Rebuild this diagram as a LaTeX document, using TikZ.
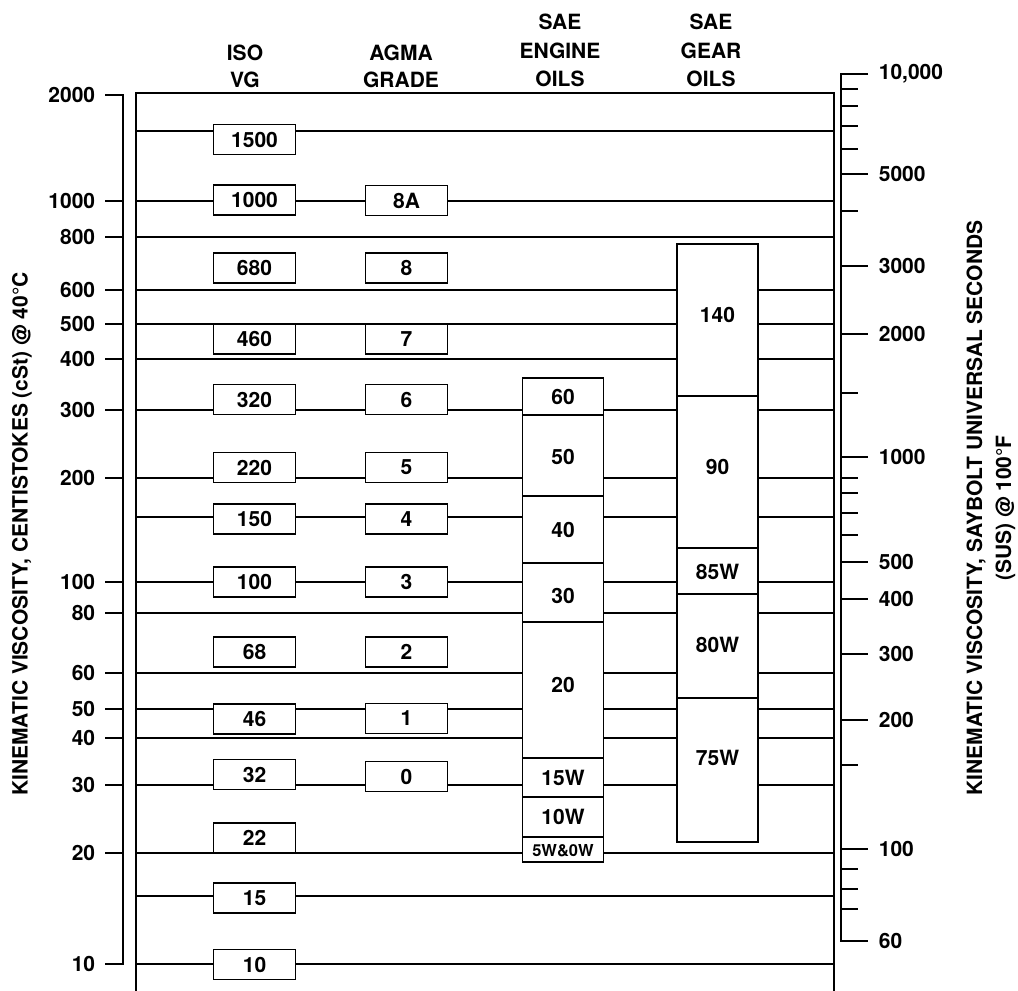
\documentclass[tikz,border=0pt]{standalone}
\usepackage{fontspec}
\setmainfont{TeX Gyre Heros}
\begin{document}
\begin{tikzpicture}[x=1pt,y=-1pt,line width=1.7pt,
  txt/.style={font=\fontsize{21}{25}\selectfont\bfseries,inner sep=0pt},
  gbox/.style={draw,fill=white,line width=1.7pt,minimum width=82pt,minimum height=30pt,inner sep=0pt,font=\fontsize{21}{25}\selectfont\bfseries},
  seg/.style={draw,fill=white,line width=1.7pt,minimum width=81pt,inner sep=0pt},
  tickline/.style={line width=1.7pt}]
\useasboundingbox (0,0) rectangle (1018,991);
\fill[white] (0,0) rectangle (1018,991);

% column titles
\node[txt,anchor=base] (tISO) at (245,60) {ISO};
\node[txt,anchor=base] (tVG) at (245,87) {VG};
\node[txt,anchor=base] (tAGMA) at (401,60) {AGMA};
\node[txt,anchor=base] (tGRADE) at (401,87) {GRADE};
\node[txt,anchor=base] (tSAE1) at (560,29) {SAE};
\node[txt,anchor=base] (tENG) at (560,58) {ENGINE};
\node[txt,anchor=base] (tOIL1) at (560,86) {OILS};
\node[txt,anchor=base] (tSAE2) at (711,29) {SAE};
\node[txt,anchor=base] (tGEAR) at (711,58) {GEAR};
\node[txt,anchor=base] (tOIL2) at (711,86) {OILS};

% frame
\draw (136,991) -- (136,93) -- (834,93) -- (834,991);

% horizontal grid lines
\foreach \yy in {131,201,237,290,324,359,410,478,517,582,613,673,709,738,785,853,896,964}
  \draw (136,\yy) -- (834,\yy);

% left axis
\draw (105,95) -- (123,95) -- (123,964) -- (108,964);
\foreach \yy/\tt in {95/2000,201/1000,237/800,290/600,324/500,359/400,410/300,478/200,582/100,613/80,673/60,709/50,738/40,785/30,853/20,964/10}{
  \draw (105,\yy) -- (123,\yy);
  \node[txt,anchor=east] at (96,\yy) {\tt};
}

% right axis
\draw (868,74) -- (841,74) -- (841,941) -- (866,941);
\foreach \yy/\tt in {74/{10,000},174/5000,266/3000,334/2000,457/1000,562/500,599/400,654/300,720/200,849/100,941/60}{
  \draw (841,\yy) -- (868,\yy);
  \node[txt,anchor=west] at (878,\yy) {\tt};
}
\foreach \yy in {89,106,126,149,211,393,478,493,513,535,765,869,889,909}
  \draw (841,\yy) -- (858,\yy);

% axis titles
\node[txt,rotate=90] (ltitle) at (22,534) {KINEMATIC VISCOSITY, CENTISTOKES (cSt) @ 40°C};
\node[txt,rotate=90,align=center,font=\fontsize{21}{29}\selectfont\bfseries] (rtitle) at (991,508) {KINEMATIC VISCOSITY, SAYBOLT UNIVERSAL SECONDS\\(SUS) @ 100°F};

% ISO VG boxes
\foreach \yy/\tt in {139.5/1500,200/1000,268/680,339/460,399.5/320,467.5/220,519/150,582/100,652/68,719/46,774.5/32,838/22,898/15,964.5/10}
  \node[gbox] (iso\tt) at (254.5,\yy) {\tt};

% AGMA boxes
\foreach \yy/\tt in {200.5/8A,268/8,339/7,399.5/6,467.5/5,519/4,582/3,652/2,718.5/1,776.5/0}
  \node[gbox] (agma\tt) at (406.5,\yy) {\tt};

% SAE engine oils
\node[seg,minimum height=37pt] (e60) at (563,396.5) {};
\node[seg,minimum height=81pt] (e50) at (563,455.5) {};
\node[seg,minimum height=67pt] (e40) at (563,529.5) {};
\node[seg,minimum height=59pt] (e30) at (563,592.5) {};
\node[seg,minimum height=136pt] (e20) at (563,690) {};
\node[seg,minimum height=39pt] (e15) at (563,777.5) {};
\node[seg,minimum height=40pt] (e10) at (563,817) {};
\node[seg,minimum height=25pt] (e5) at (563,849.5) {};
\node[txt] (le60) at (563,397) {60};
\node[txt] (le50) at (563,457) {50};
\node[txt] (le40) at (563,530) {40};
\node[txt] (le30) at (563,596) {30};
\node[txt] (le20) at (563,685) {20};
\node[txt] (le15) at (563,778) {15W};
\node[txt] (le10) at (563,817) {10W};
\node[txt,font=\fontsize{16.5}{20}\selectfont\bfseries] (le5) at (563,851) {5W\&0W};

% SAE gear oils
\node[seg,minimum height=152pt] (g140) at (717.5,320) {};
\node[seg,minimum height=152pt] (g90) at (717.5,472) {};
\node[seg,minimum height=46pt] (g85) at (717.5,571) {};
\node[seg,minimum height=104pt] (g80) at (717.5,646) {};
\node[seg,minimum height=144pt] (g75) at (717.5,770) {};
\node[txt] (lg140) at (717.5,315) {140};
\node[txt] (lg90) at (717.5,467) {90};
\node[txt] (lg85) at (717.5,572) {85W};
\node[txt] (lg80) at (717.5,645) {80W};
\node[txt] (lg75) at (717.5,758) {75W};
\end{tikzpicture}
\end{document}
